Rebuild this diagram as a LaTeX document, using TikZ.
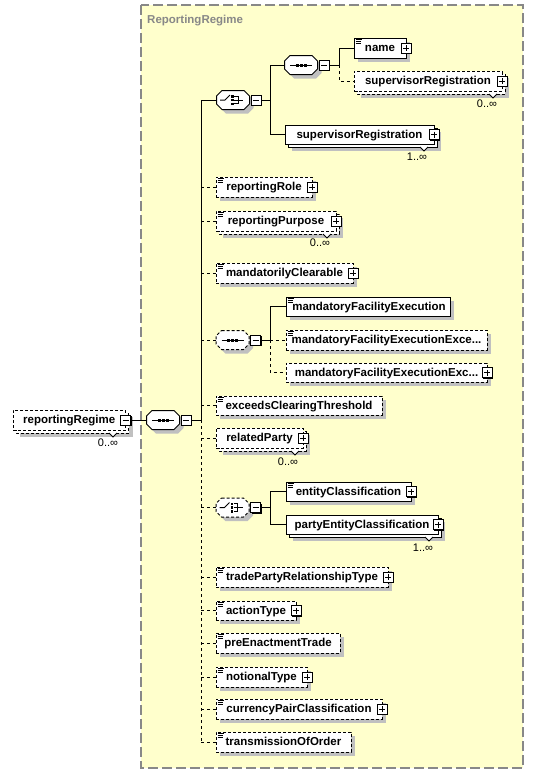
\documentclass[tikz,border=0pt]{standalone}
\usepackage{fontspec}
\setmainfont{Liberation Sans}
\usetikzlibrary{shadows}
\definecolor{bgyellow}{RGB}{255,255,204}
\definecolor{shgray}{RGB}{192,192,192}
\definecolor{framegray}{RGB}{136,136,136}
\tikzset{
  elem/.style={draw=black, fill=white, line width=1pt, inner sep=0pt,
    font=\bfseries\fontsize{11.5}{13}\selectfont, text height=8.2pt, text depth=1pt},
  elemS/.style={elem},
  elemD/.style={elem, dash pattern=on 3pt off 2pt},
  conS/.style={line width=1pt},
  conD/.style={line width=1pt, dash pattern=on 3pt off 3pt},
  shd/.style={fill=shgray},
  pmb/.style={draw=black, fill=white, line width=1pt, minimum size=10pt, inner sep=0pt,
    general shadow={fill=black, shadow xshift=1.2pt, shadow yshift=-1.2pt}},
  occ/.style={font=\fontsize{11}{12}\selectfont, inner sep=0pt},
  symb/.style={minimum width=33pt, minimum height=19pt, inner sep=0pt},
  octS/.style={draw=black, fill=white, line width=1pt},
  octD/.style={draw=black, fill=white, line width=1pt, dash pattern=on 3pt off 2pt}
}
% element box: name, style, x1, y1, x2, y2, text
\newcommand\ebox[7]{%
  \fill[shd] ({#3+4},{#4+4}) rectangle ({#5+4},{#6+4});
  \node[#2, minimum width={#5-#3}, minimum height={#6-#4}] (#1) at ({(#3+#5)/2},{(#4+#6)/2}) {#7};}
% multiple element box
\newcommand\mulbox[7]{%
  \fill[shd] ({#3+7},{#4+7}) rectangle ({#5+7},{#6+7});
  \draw[#2] ({#3+3},{#4+3}) rectangle ({#5+3},{#6+3});
  \node[#2, minimum width={#5-#3}, minimum height={#6-#4}] (#1) at ({(#3+#5)/2},{(#4+#6)/2}) {#7};}
\newcommand\notch[2]{%
  \draw[line width=0.8pt, fill=white] ({#1-4},#2) -- (#1,{#2+4}) -- ({#1+4},#2);}
\newcommand\icon[2]{%
  \draw[line width=0.8pt] ({#1+1.5},{#2+1.8}) -- ({#1+7.5},{#2+1.8})
    ({#1+1.5},{#2+3.8}) -- ({#1+7},{#2+3.8})
    ({#1+1.5},{#2+5.8}) -- ({#1+7},{#2+5.8});}
% plus / minus box: name, x, y, p|m
\newcommand\pmbox[4]{%
  \node[pmb] (#1) at (#2,#3) {};
  \draw[line width=1pt] ({#2-3},#3) -- ({#2+3},#3);
  \if#4p\draw[line width=1pt] (#2,{#3-3}) -- (#2,{#3+3});\fi}
% octagon symbol: name, cx, cy, style
\newcommand\octo[4]{%
  \pgfmathsetmacro\oL{#2-16.5}\pgfmathsetmacro\oR{#2+16.5}%
  \pgfmathsetmacro\oT{#3-9.5}\pgfmathsetmacro\oB{#3+9.5}%
  \pgfmathsetmacro\oLc{#2-11}\pgfmathsetmacro\oRc{#2+11}%
  \pgfmathsetmacro\oTc{#3-4}\pgfmathsetmacro\oBc{#3+4}%
  \fill[shd,shift={(4,4)}] (\oLc,\oT) -- (\oRc,\oT) -- (\oR,\oTc) -- (\oR,\oBc) -- (\oRc,\oB) -- (\oLc,\oB) -- (\oL,\oBc) -- (\oL,\oTc) -- cycle;
  \draw[#4] (\oLc,\oT) -- (\oRc,\oT) -- (\oR,\oTc) -- (\oR,\oBc) -- (\oRc,\oB) -- (\oLc,\oB) -- (\oL,\oBc) -- (\oL,\oTc) -- cycle;
  \node[symb] (#1) at (#2,#3) {};}
\newcommand\seqglyph[2]{%
  \draw[line width=1pt] ({#1-11},#2) -- ({#1+11},#2);
  \fill ({#1-5.5},{#2-1.5}) rectangle ({#1-2.5},{#2+1.5});
  \fill ({#1-1.5},{#2-1.5}) rectangle ({#1+1.5},{#2+1.5});
  \fill ({#1+2.5},{#2-1.5}) rectangle ({#1+5.5},{#2+1.5});}
\newcommand\choiceglyph[2]{%
  \draw[line width=1pt] ({#1-13},#2) -- ({#1-8},#2) -- ({#1-3},{#2-5});
  \fill ({#1-2},{#2-5}) rectangle ({#1+0.5},{#2-2.5});
  \fill ({#1-2},{#2-1.2}) rectangle ({#1+0.5},{#2+1.2});
  \fill ({#1-2},{#2+2.5}) rectangle ({#1+0.5},{#2+5});
  \draw[line width=1pt] ({#1+1},{#2-3.75}) -- ({#1+5},{#2-3.75}) -- ({#1+5},{#2+3.75}) -- ({#1+1},{#2+3.75})
    ({#1+1},#2) -- ({#1+10},#2);}

\begin{document}
\begin{tikzpicture}[x=1pt,y=-1pt]
\useasboundingbox (0,0) rectangle (534,774);
% complex type frame
\fill[bgyellow] (141,5) rectangle (523,768);
\draw[framegray, line width=1.3pt, dash pattern=on 10pt off 4pt] (141,5) rectangle (523,768);
\node[anchor=base west, inner sep=0pt, text=framegray, font=\bfseries\fontsize{11.5}{13}\selectfont] (title) at (147,23) {ReportingRegime};

% root element
\mulbox{rr}{elemD}{13}{410}{125.5}{430}{reportingRegime\hspace{8pt}}
\notch{113}{433}
\pmbox{rr-pm}{125.5}{420}{m}
\node[occ] (rr-occ) at (108,443) {0..\char"221E};

% main sequence
\octo{mseq}{163}{420}{octS}
\seqglyph{163}{420}
\pmbox{mseq-pm}{186}{420}{m}
\coordinate (tk) at (201,420);

% first choice
\octo{ch1}{233}{100}{octS}
\choiceglyph{233}{100}
\pmbox{ch1-pm}{256}{100}{m}
\coordinate (v1) at (270,100);

% inner sequence
\octo{sq1}{301}{65}{octS}
\seqglyph{301}{65}
\pmbox{sq1-pm}{324}{65}{m}
\coordinate (v2) at (339,65);

\ebox{nm}{elemS}{354}{38}{406}{58}{name\hspace{5pt}}
\icon{354}{38}
\pmbox{nm-pm}{406}{48}{p}

\mulbox{sr1}{elemD}{354}{71}{502}{91}{supervisorRegistration\hspace{3pt}}
\notch{493}{94}
\pmbox{sr1-pm}{502}{81}{p}
\node[occ] (sr1-occ) at (487,104) {0..\char"221E};

\mulbox{sr2}{elemS}{285}{125}{434}{144}{supervisorRegistration\hspace{3pt}}
\notch{424}{147}
\pmbox{sr2-pm}{434}{134.5}{p}
\node[occ] (sr2-occ) at (417,157) {1..\char"221E};

% simple children
\ebox{rrole}{elemD}{216}{177}{312}{197}{reportingRole}
\icon{216}{177}
\pmbox{rrole-pm}{312}{187}{p}

\mulbox{rpur}{elemD}{216}{211}{336}{231}{reportingPurpose\hspace{4pt}}
\icon{216}{211}
\notch{327}{234}
\pmbox{rpur-pm}{336}{221}{p}
\node[occ] (rpur-occ) at (320,243) {0..\char"221E};

\ebox{mclr}{elemD}{216}{263}{353}{283}{mandatorilyClearable\hspace{4pt}}
\icon{216}{263}
\pmbox{mclr-pm}{353}{273}{p}

% second sequence
\octo{sq2}{232.5}{340}{octD}
\seqglyph{232.5}{340}
\pmbox{sq2-pm}{255.5}{340}{m}
\coordinate (v3) at (270,340);

\ebox{mfe}{elemS}{286}{297}{450}{316}{\hspace{2pt}mandatoryFacilityExecution}
\icon{286}{297}
\ebox{mfe2}{elemD}{286}{330}{487}{350}{mandatoryFacilityExecutionExce...}
\icon{286}{330}
\ebox{mfe3}{elemD}{286}{363}{487}{382}{mandatoryFacilityExecutionExc...\hspace{6pt}}
\pmbox{mfe3-pm}{487}{372.5}{p}

\ebox{ect}{elemD}{216}{396}{382}{415}{exceedsClearingThreshold}
\icon{216}{396}

\mulbox{rp}{elemD}{216}{428}{303}{448}{relatedParty\hspace{4pt}}
\notch{295}{451}
\pmbox{rp-pm}{303}{438}{p}
\node[occ] (rp-occ) at (288,462) {0..\char"221E};

% second choice
\octo{ch2}{232.5}{507.5}{octD}
\choiceglyph{232.5}{507.5}
\pmbox{ch2-pm}{255.5}{507.5}{m}
\coordinate (v4) at (270,507.5);

\ebox{ec}{elemS}{286}{482}{411}{501}{entityClassification\hspace{4pt}}
\icon{286}{482}
\pmbox{ec-pm}{411}{491.5}{p}

\mulbox{pec}{elemS}{286}{515}{438}{534}{partyEntityClassification\hspace{4pt}}
\notch{429}{537}
\pmbox{pec-pm}{438}{524.5}{p}
\node[occ] (pec-occ) at (423,548) {1..\char"221E};

\ebox{tprt}{elemD}{216}{567}{388}{587}{tradePartyRelationshipType\hspace{4pt}}
\icon{216}{567}
\pmbox{tprt-pm}{388}{577}{p}

\ebox{at}{elemD}{216}{601}{296}{620}{actionType\hspace{4pt}}
\icon{216}{601}
\pmbox{at-pm}{296}{610.5}{p}

\ebox{pet}{elemD}{216}{633}{340}{653}{preEnactmentTrade}
\icon{216}{633}

\ebox{nt}{elemD}{216}{667}{307}{687}{notionalType\hspace{4pt}}
\icon{216}{667}
\pmbox{nt-pm}{307}{677}{p}

\ebox{cpc}{elemD}{216}{699}{382}{719}{currencyPairClassification\hspace{4pt}}
\icon{216}{699}
\pmbox{cpc-pm}{382}{709}{p}

\ebox{too}{elemD}{216}{732}{351}{752}{transmissionOfOrder}
\icon{216}{732}

% connectors: root
\draw[conS] (rr-pm.east) -- (mseq.west);
\draw[conS] (mseq-pm.east) -- (tk);
\draw[conS] (tk) -- (tk |- ch1.west) -- (ch1.west);
\draw[conD] (tk) -- (tk |- too.west);
\foreach \c in {rrole,rpur,mclr,sq2,ect,rp,ch2,tprt,at,pet,nt,cpc,too}
  \draw[conD] (tk |- \c.west) -- (\c.west);
% first choice
\draw[conS] (ch1-pm.east) -- (v1);
\draw[conS] (v1 |- sq1.west) -- (v1 |- sr2.west);
\draw[conS] (v1 |- sq1.west) -- (sq1.west);
\draw[conS] (v1 |- sr2.west) -- (sr2.west);
% inner sequence
\draw[conS] (sq1-pm.east) -- (v2);
\draw[conS] (v2) -- (v2 |- nm.west) -- (nm.west);
\draw[conD] (v2) -- (v2 |- sr1.west) -- (sr1.west);
% second sequence
\draw[conS] (sq2-pm.east) -- (v3);
\draw[conS] (v3) -- (v3 |- mfe.west) -- (mfe.west);
\draw[conD] (v3) -- (mfe2.west);
\draw[conD] (v3) -- (v3 |- mfe3.west) -- (mfe3.west);
% second choice
\draw[conS] (ch2-pm.east) -- (v4);
\draw[conS] (v4 |- ec.west) -- (v4 |- pec.west);
\draw[conS] (v4 |- ec.west) -- (ec.west);
\draw[conS] (v4 |- pec.west) -- (pec.west);
\end{tikzpicture}
\end{document}
